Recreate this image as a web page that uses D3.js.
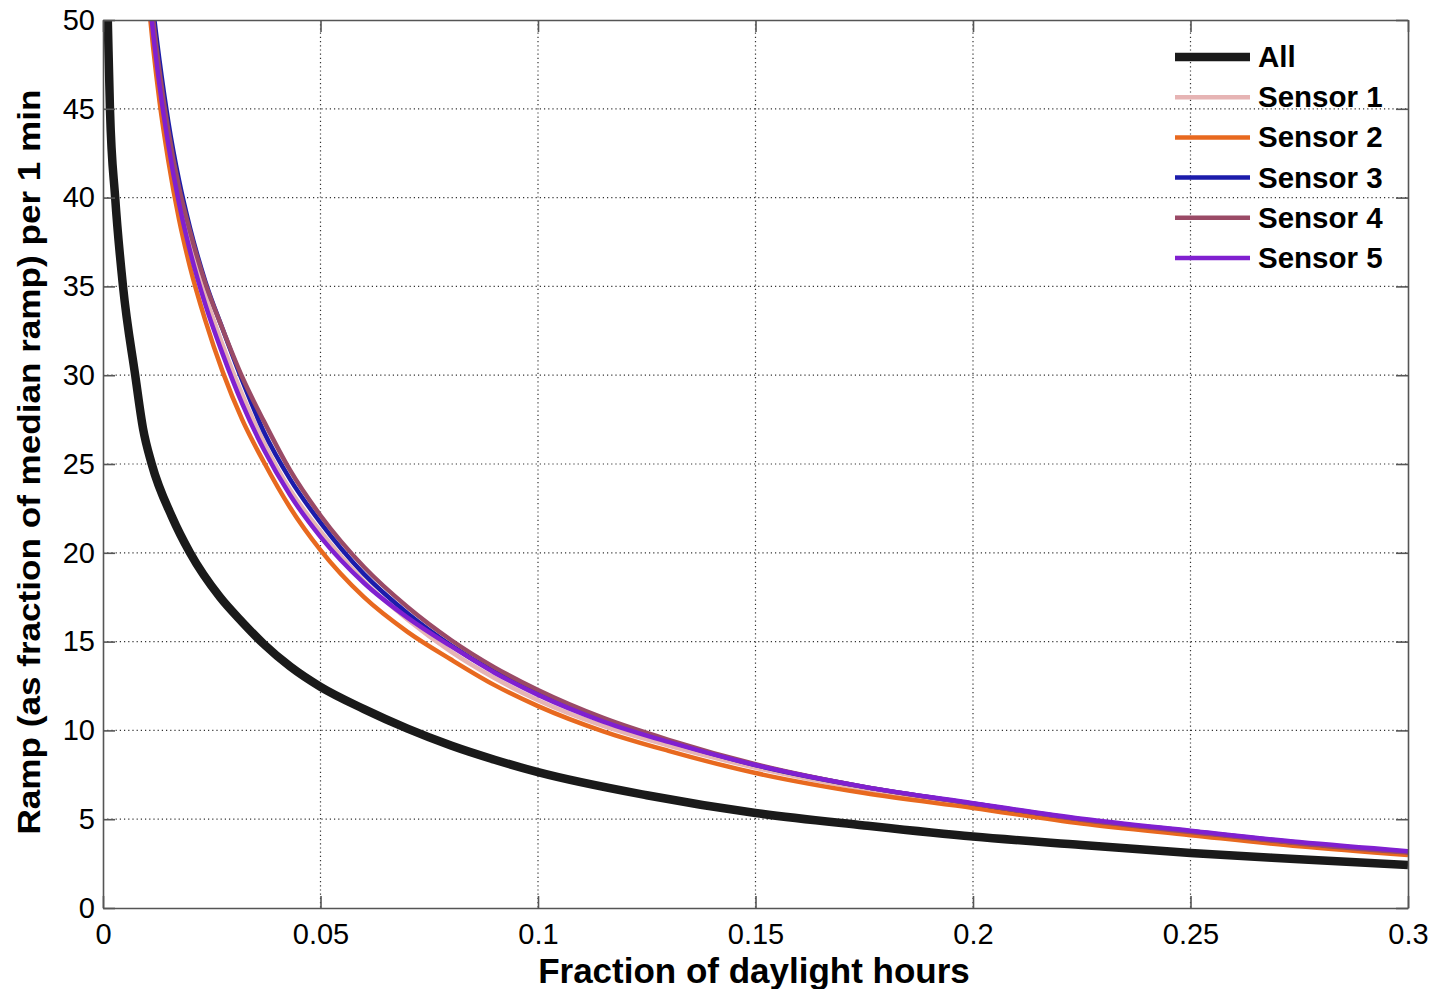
<!DOCTYPE html>
<html>
<head>
<meta charset="utf-8">
<script src="https://cdn.jsdelivr.net/npm/d3@7/dist/d3.min.js"></script>
<style>
  html, body { margin: 0; padding: 0; background: #fff; }
  svg { display: block; }
  text { font-family: Arial, "Liberation Sans", Helvetica, sans-serif; fill: #000; }
</style>
</head>
<body>
<svg id="chart" width="1433" height="989"></svg>
<script>
// Exceedance curves: ramp size vs. fraction of daylight hours
const xTicks = [0, 0.05, 0.1, 0.15, 0.2, 0.25, 0.3];
const xTickLabels = ["0", "0.05", "0.1", "0.15", "0.2", "0.25", "0.3"];
const yTicks = [0, 5, 10, 15, 20, 25, 30, 35, 40, 45, 50];
const yTickLabels = ["0", "5", "10", "15", "20", "25", "30", "35", "40", "45", "50"];

// Aggregate of all sensors
const allX = [0.0008, 0.0011, 0.0016, 0.0028, 0.0046, 0.0074, 0.0092, 0.0112, 0.0159, 0.020, 0.0269, 0.032, 0.037, 0.043, 0.05, 0.06, 0.07, 0.08, 0.09, 0.1, 0.125, 0.15, 0.175, 0.2, 0.225, 0.25, 0.275, 0.3];
const allY = [53, 50, 45, 40, 35, 30, 27.0, 25, 22, 20, 17.5, 16.1, 14.85, 13.6, 12.45, 11.2, 10.1, 9.15, 8.35, 7.65, 6.35, 5.35, 4.65, 4.02, 3.55, 3.1, 2.75, 2.42];

// Individual sensors share one x grid
const sensorX = [0.0100, 0.0115, 0.013, 0.015, 0.0175, 0.02, 0.0235, 0.0275, 0.032, 0.037, 0.043, 0.05, 0.06, 0.07, 0.08, 0.09, 0.1, 0.115, 0.13, 0.15, 0.175, 0.2, 0.225, 0.25, 0.275, 0.3];
const sensor1 = [53.0, 49.3, 46.3, 43.2, 39.95, 37.4, 34.5, 31.7, 28.9, 26.2, 23.55, 21.2, 18.4, 16.25, 14.44, 12.95, 11.7, 10.25, 9.15, 7.9, 6.7, 5.8, 4.94, 4.29, 3.66, 3.15];
const sensor2 = [52.2, 48.5, 45.4, 42.1, 38.75, 36.1, 33.1, 30.2, 27.5, 25.1, 22.55, 20.15, 17.5, 15.55, 13.99, 12.55, 11.37, 9.95, 8.85, 7.6, 6.47, 5.63, 4.75, 4.1, 3.47, 2.98];
const sensor3 = [54.5, 50.7, 47.7, 44.3, 40.95, 38.3, 35.3, 32.6, 29.7, 26.8, 24.15, 21.7, 18.8, 16.6, 14.79, 13.3, 12.1, 10.55, 9.4, 8.05, 6.82, 5.88, 4.99, 4.32, 3.67, 3.15];
const sensor4 = [53.75, 50.1, 47.1, 43.8, 40.55, 38.1, 35.2, 32.6, 29.9, 27.4, 24.65, 22.1, 19.2, 16.95, 15.09, 13.55, 12.27, 10.7, 9.47, 8.1, 6.82, 5.87, 4.97, 4.28, 3.63, 3.12];
const sensor5 = [53.0, 49.3, 46.3, 43.0, 39.65, 37.0, 34.0, 31.2, 28.4, 25.8, 23.25, 20.9, 18.3, 16.35, 14.74, 13.25, 12.0, 10.5, 9.35, 8.05, 6.82, 5.9, 5.02, 4.35, 3.71, 3.2];

const seriesNames = ["All", "Sensor 1", "Sensor 2", "Sensor 3", "Sensor 4", "Sensor 5"];
const seriesColors = ["#1a1a1a", "#e6b4b4", "#e8691f", "#1c1cab", "#9a4a66", "#8020d0"];

const series = [
  { name: seriesNames[0], color: seriesColors[0], width: 8.5, xs: allX, ys: allY },
  { name: seriesNames[1], color: seriesColors[1], width: 4.5, xs: sensorX, ys: sensor1 },
  { name: seriesNames[2], color: seriesColors[2], width: 4.5, xs: sensorX, ys: sensor2 },
  { name: seriesNames[3], color: seriesColors[3], width: 4.5, xs: sensorX, ys: sensor3 },
  { name: seriesNames[4], color: seriesColors[4], width: 4.5, xs: sensorX, ys: sensor4 },
  { name: seriesNames[5], color: seriesColors[5], width: 4.5, xs: sensorX, ys: sensor5 }
];

const svg = d3.select("#chart");
const plotL = 103, plotT = 20, plotR = 1408, plotB = 908;

const x = d3.scaleLinear().domain([0, 0.3]).range([plotL, plotR]);
const y = d3.scaleLinear().domain([0, 50]).range([plotB, plotT]);

// Dotted grid
const grid = svg.append("g").attr("stroke", "#333").attr("stroke-width", 1.2)
  .attr("stroke-dasharray", "1.2,3");
grid.selectAll("line.gx").data(xTicks.slice(1, -1)).join("line")
  .attr("class", "gx")
  .attr("x1", d => x(d)).attr("x2", d => x(d)).attr("y1", plotT).attr("y2", plotB);
grid.selectAll("line.gy").data(yTicks.slice(1, -1)).join("line")
  .attr("class", "gy")
  .attr("y1", d => y(d)).attr("y2", d => y(d)).attr("x1", plotL).attr("x2", plotR);

// Curves clipped to the plot box
svg.append("clipPath").attr("id", "plotClip").append("rect")
  .attr("x", plotL).attr("y", plotT).attr("width", plotR - plotL).attr("height", plotB - plotT);

const line = d3.line().curve(d3.curveMonotoneX).x(d => x(d[0])).y(d => y(d[1]));
const curves = svg.append("g").attr("clip-path", "url(#plotClip)");
series.forEach(s => {
  curves.append("path")
    .attr("d", line(s.xs.map((v, i) => [v, s.ys[i]])))
    .attr("fill", "none")
    .attr("stroke", s.color)
    .attr("stroke-width", s.width)
    .attr("stroke-linejoin", "round");
});

// Axes with inward ticks on all four sides
const axisColor = "#555";
function styleAxis(g) {
  g.selectAll("path.domain").attr("stroke", axisColor).attr("stroke-width", 1.6);
  g.selectAll(".tick line").attr("stroke", axisColor).attr("stroke-width", 1.6);
  g.selectAll(".tick text").attr("font-size", 29).attr("fill", "#000")
    .attr("font-family", "Arial, 'Liberation Sans', sans-serif");
}

svg.append("g").attr("transform", `translate(0,${plotB})`)
  .call(d3.axisBottom(x).tickValues(xTicks).tickFormat((d, i) => xTickLabels[i])
    .tickSize(-12).tickSizeOuter(0).tickPadding(15))
  .call(styleAxis);
svg.append("g").attr("transform", `translate(0,${plotT})`)
  .call(d3.axisTop(x).tickValues(xTicks).tickFormat("").tickSize(-12).tickSizeOuter(0))
  .call(styleAxis);
svg.append("g").attr("transform", `translate(${plotL},0)`)
  .call(d3.axisLeft(y).tickValues(yTicks).tickFormat((d, i) => yTickLabels[i])
    .tickSize(-12).tickSizeOuter(0).tickPadding(8))
  .call(styleAxis);
svg.append("g").attr("transform", `translate(${plotR},0)`)
  .call(d3.axisRight(y).tickValues(yTicks).tickFormat("").tickSize(-12).tickSizeOuter(0))
  .call(styleAxis);

// Axis titles
svg.append("text")
  .attr("x", 754).attr("y", 983)
  .attr("text-anchor", "middle")
  .attr("font-size", 35).attr("font-weight", "bold")
  .text("Fraction of daylight hours");

svg.append("text")
  .attr("transform", "translate(40,462) rotate(-90)")
  .attr("text-anchor", "middle")
  .attr("font-size", 31).attr("font-weight", "bold")
  .attr("font-family", "'Liberation Sans Narrow', 'Arial Narrow', Arial, sans-serif")
  .attr("textLength", 745).attr("lengthAdjust", "spacingAndGlyphs")
  .text("Ramp (as fraction of median ramp) per 1 min");

// Legend
const legend = svg.append("g");
series.forEach((s, i) => {
  const cy = 57 + i * 40.2;
  legend.append("line")
    .attr("x1", 1175).attr("x2", 1250).attr("y1", cy).attr("y2", cy)
    .attr("stroke", s.color).attr("stroke-width", i === 0 ? 8.5 : 4.5);
  legend.append("text")
    .attr("x", 1258).attr("y", cy + 10)
    .attr("font-size", 29.5).attr("font-weight", "bold")
    .text(s.name);
});
</script>
</body>
</html>
